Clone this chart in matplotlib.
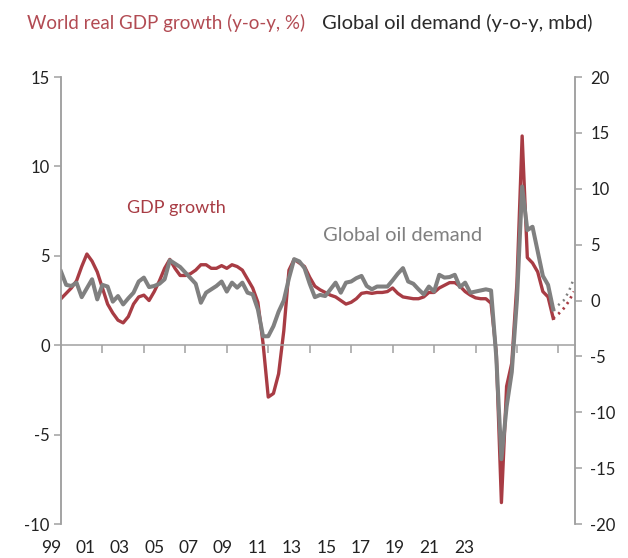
import numpy as np
import matplotlib
matplotlib.use("Agg")
import matplotlib.pyplot as plt
from matplotlib.transforms import blended_transform_factory

plt.rcParams['font.family'] = ['Lato', 'DejaVu Sans']
plt.rcParams['axes.unicode_minus'] = False

# quarterly data, 1999Q1 .. 2022Q4
gdp_growth = [2.6, 2.9, 3.2, 3.6, 4.4, 5.1, 4.7, 4.1, 3.2, 2.3, 1.8, 1.4,
              1.25, 1.6, 2.3, 2.7, 2.8, 2.5, 3.0, 3.6, 4.3, 4.8, 4.3, 3.9,
              3.9, 4.0, 4.2, 4.5, 4.5, 4.3, 4.3, 4.45, 4.3, 4.5, 4.4, 4.2,
              3.7, 3.2, 2.4, 0.1, -2.9, -2.7, -1.6, 0.8, 4.2, 4.8, 4.6, 4.4,
              3.8, 3.3, 3.1, 2.95, 2.8, 2.7, 2.5, 2.3, 2.4, 2.6, 2.9, 2.95,
              2.9, 2.95, 2.95, 3.0, 3.2, 2.9, 2.7, 2.65, 2.6, 2.6, 2.7, 2.95,
              2.95, 3.2, 3.35, 3.5, 3.5, 3.3, 3.0, 2.8, 2.65, 2.6, 2.6, 2.35,
              -0.4, -8.8, -2.3, -1.0, 3.5, 11.7, 4.9, 4.6, 4.1, 3.0, 2.7, 1.5]

oil_demand = [2.6, 1.4, 1.3, 1.6, 0.3, 1.1, 1.9, 0.1, 1.4, 1.25, -0.1, 0.4,
              -0.35, 0.2, 0.7, 1.7, 2.05, 1.2, 1.3, 1.5, 1.9, 3.6, 3.3, 3.0,
              2.5, 2.0, 1.5, -0.2, 0.7, 1.0, 1.3, 1.7, 0.8, 1.6, 1.15, 1.6,
              0.7, 0.55, -0.8, -3.2, -3.2, -2.3, -1.0, 0.0, 2.0, 3.7, 3.5, 2.9,
              1.5, 0.3, 0.5, 0.4, 1.0, 1.6, 0.7, 1.6, 1.7, 2.0, 2.2, 1.3,
              1.0, 1.25, 1.25, 1.25, 1.8, 2.4, 2.9, 1.7, 1.5, 1.0, 0.55, 1.25,
              0.8, 2.3, 2.05, 2.1, 2.3, 1.2, 1.6, 0.7, 0.8, 0.9, 1.0, 0.9,
              -5.0, -14.2, -9.5, -6.4, 0.1, 10.2, 6.3, 6.6, 4.4, 2.2, 1.4, -0.8]

# projections 2022Q4 .. 2023Q4
gdp_proj = [1.5, 1.75, 2.05, 2.45, 3.0]
oil_proj = [-0.8, -0.4, 0.0, 0.8, 2.0]

year_labels = ['99', '01', '03', '05', '07', '09', '11', '13', '15', '17', '19', '21', '23']

red = '#A83C44'
grey = '#808080'
axis_col = '#A0A0A0'
text_col = '#222222'

t = 1999 + np.arange(len(gdp_growth)) / 4
t_proj = t[-1] + np.arange(len(gdp_proj)) / 4

fig = plt.figure(figsize=(6.28, 5.58), dpi=100)
ax = fig.add_axes([0.0971, 0.0609, 0.8185, 0.8011])
ax2 = ax.twinx()

ax.plot(t, gdp_growth, color=red, lw=2.4, solid_joinstyle='round')
ax.plot(t_proj, gdp_proj, color=red, lw=2.0, ls=(0, (0.8, 1.6)))
ax2.plot(t, oil_demand, color=grey, lw=2.9, solid_joinstyle='round')
ax2.plot(t_proj, oil_proj, color=grey, lw=1.8, ls=(0, (0.8, 1.8)))

ax.set_xlim(1999.0, 2023.8)
ax.set_ylim(-10, 15)
ax2.set_ylim(-20, 20)
ax.set_yticks([-10, -5, 0, 5, 10, 15])
ax2.set_yticks([-20, -15, -10, -5, 0, 5, 10, 15, 20])

for a in (ax, ax2):
    a.spines['top'].set_visible(False)
    a.spines['left'].set_color(axis_col)
    a.spines['right'].set_color(axis_col)
    a.spines['left'].set_linewidth(1.1)
    a.spines['right'].set_linewidth(1.1)
ax2.spines['bottom'].set_visible(False)
ax.spines['bottom'].set_position(('data', 0))
ax.spines['bottom'].set_color(axis_col)
ax.spines['bottom'].set_linewidth(1.1)

ax.set_xticks(np.arange(2001, 2024, 2))
ax.tick_params(axis='x', direction='out', length=6, width=1.1, color=axis_col, labelbottom=False)
ax.tick_params(axis='y', direction='out', length=5, width=1.1, color=axis_col,
               labelsize=12, labelcolor=text_col, pad=3)
ax2.tick_params(axis='y', direction='out', length=5, width=1.1, color=axis_col,
                labelsize=12, labelcolor=text_col, pad=6)

# year labels under the chart (placed as in the original, compressed to the left)
trans = blended_transform_factory(ax.transData, ax.transAxes)
for k, lab in enumerate(year_labels):
    ax.text(1998.52 + k * 1.66, -0.035, lab, transform=trans, ha='center', va='top',
            fontsize=12.5, color=text_col)

ax.text(2002.18, 7.65, 'GDP growth', color=red, fontsize=13, va='center', ha='left')
ax.text(2011.64, 6.15, 'Global oil demand', color=grey, fontsize=14.5, va='center', ha='left')

fig.text(27 / 628, 1 - 23 / 558, 'World real GDP growth (y-o-y, %)', color='#B24B53',
         fontsize=13.5, va='center', ha='left')
fig.text(322 / 628, 1 - 23 / 558, 'Global oil demand (y-o-y, mbd)', color='#2a2a2a',
         fontsize=14.5, va='center', ha='left')

fig.savefig('out.png', dpi=100)
